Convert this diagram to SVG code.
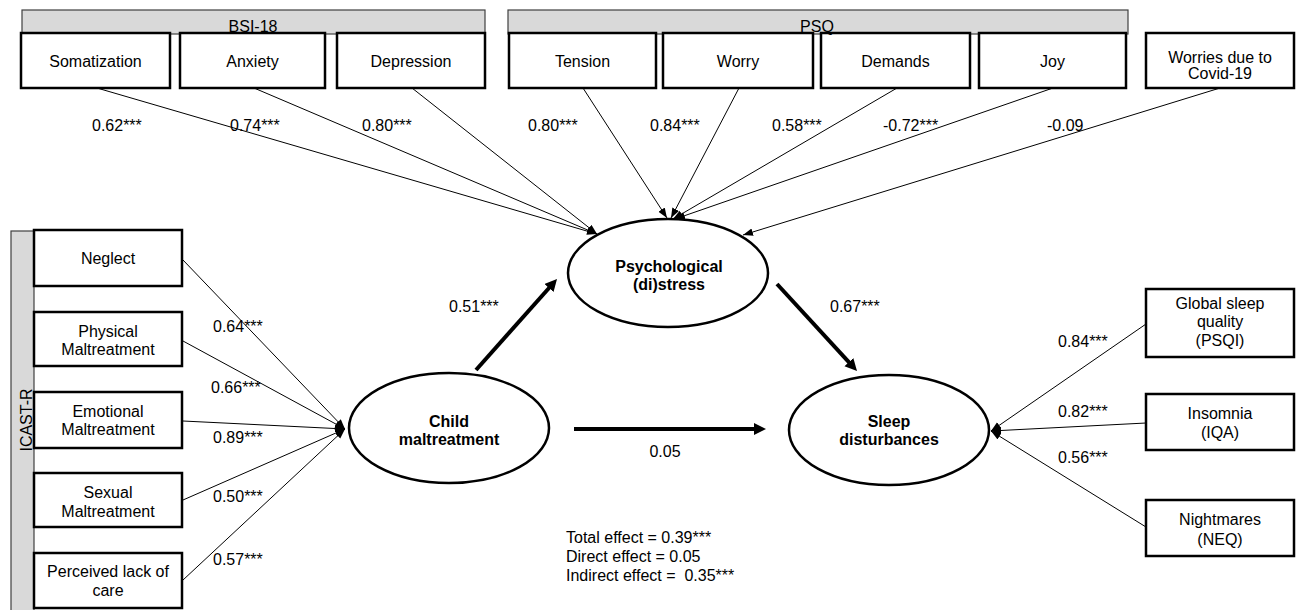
<svg xmlns="http://www.w3.org/2000/svg" width="1296" height="610" viewBox="0 0 1296 610">
<style>
text{font-family:"Liberation Sans",Arial,Helvetica,sans-serif;font-size:16px;fill:#000}
.c{text-anchor:middle}
.b{font-weight:bold}
.box{fill:#fff;stroke:#000;stroke-width:2.5}
.hdr{fill:#d9d9d9;stroke:#404040;stroke-width:1.2}
.ell{fill:#fff;stroke:#000;stroke-width:2.5}
.thin{stroke:#000;stroke-width:1;fill:none;marker-end:url(#ah)}
.thick{stroke:#000;stroke-width:4;fill:none;marker-end:url(#ahb)}
</style>
<defs>
<marker id="ah" markerUnits="userSpaceOnUse" markerWidth="11" markerHeight="8" refX="10" refY="3.75" orient="auto">
<path d="M0,0 L10,3.75 L0,7.5 z" fill="#000"/>
</marker>
<marker id="ahb" markerUnits="userSpaceOnUse" markerWidth="13" markerHeight="13" refX="4" refY="6" orient="auto">
<path d="M0,0 L12,6 L0,12 z" fill="#000"/>
</marker>
</defs>
<rect width="1296" height="610" fill="#fff"/>

<g id="headers">
<rect class="hdr" x="22" y="10" width="463" height="24"/>
<rect class="hdr" x="508" y="10" width="620" height="24"/>
<rect class="hdr" x="11" y="231" width="23" height="385"/>
<text class="c" transform="translate(32,420) rotate(-90)" x="0" y="0">ICAST-R</text>
</g>

<g id="connectors">
<line class="thin" x1="97" y1="88" x2="597" y2="234"/>
<line class="thin" x1="254" y1="88" x2="597" y2="234"/>
<line class="thin" x1="412" y1="88" x2="597" y2="234"/>
<line class="thin" x1="583" y1="88" x2="667" y2="218"/>
<line class="thin" x1="739" y1="88" x2="671" y2="218"/>
<line class="thin" x1="897" y1="88" x2="673" y2="219"/>
<line class="thin" x1="1053" y1="88" x2="675" y2="219"/>
<line class="thin" x1="1220" y1="88" x2="743" y2="235"/>
<line class="thin" x1="183" y1="260" x2="345" y2="429"/>
<line class="thin" x1="183" y1="341" x2="345" y2="429"/>
<line class="thin" x1="183" y1="421" x2="345" y2="429"/>
<line class="thin" x1="183" y1="500" x2="345" y2="429"/>
<line class="thin" x1="183" y1="580" x2="345" y2="429"/>
<line class="thin" x1="1146" y1="324" x2="991" y2="431"/>
<line class="thin" x1="1146" y1="423" x2="991" y2="431"/>
<line class="thin" x1="1146" y1="527" x2="991" y2="431"/>
<line class="thick" x1="476" y1="370" x2="551.7" y2="285"/>
<line class="thick" x1="777" y1="284" x2="851.6" y2="365.1"/>
<line class="thick" x1="574" y1="429" x2="758" y2="429"/>
</g>

<g id="labels">
<text x="92" y="131">0.62***</text>
<text x="230" y="131">0.74***</text>
<text x="362" y="131">0.80***</text>
<text x="528" y="131">0.80***</text>
<text x="650" y="131">0.84***</text>
<text x="772" y="131">0.58***</text>
<text x="883" y="131">-0.72***</text>
<text x="1047" y="131">-0.09</text>
<text x="213" y="332">0.64***</text>
<text x="211" y="393">0.66***</text>
<text x="213" y="443">0.89***</text>
<text x="213" y="502">0.50***</text>
<text x="213" y="565">0.57***</text>
<text x="1058" y="347">0.84***</text>
<text x="1058" y="417">0.82***</text>
<text x="1058" y="463">0.56***</text>
<text x="449" y="312">0.51***</text>
<text x="830" y="312">0.67***</text>
<text class="c" x="665" y="457">0.05</text>
</g>

<g id="somatization"><rect class="box" x="21" y="33" width="149" height="55"/><text class="c" x="95.5" y="67">Somatization</text></g>
<g id="anxiety"><rect class="box" x="180" y="33" width="145" height="55"/><text class="c" x="252.5" y="67">Anxiety</text></g>
<g id="depression"><rect class="box" x="337" y="33" width="148" height="55"/><text class="c" x="411" y="67">Depression</text></g>
<g id="tension"><rect class="box" x="509" y="33" width="147" height="55"/><text class="c" x="582.5" y="67">Tension</text></g>
<g id="worry"><rect class="box" x="663" y="33" width="150" height="55"/><text class="c" x="738" y="67">Worry</text></g>
<g id="demands"><rect class="box" x="821" y="33" width="149" height="55"/><text class="c" x="895.5" y="67">Demands</text></g>
<g id="joy"><rect class="box" x="979" y="33" width="147" height="55"/><text class="c" x="1052.5" y="67">Joy</text></g>
<g id="covid"><rect class="box" x="1146" y="33" width="148" height="55"/><text class="c" x="1220" y="63">Worries due to</text><text class="c" x="1220" y="79">Covid-19</text></g>

<g id="header-labels">
<text class="c" x="253" y="32">BSI-18</text>
<text class="c" x="817" y="32">PSQ</text>
</g>

<g id="neglect"><rect class="box" x="34" y="230" width="148" height="56"/><text class="c" x="108" y="264">Neglect</text></g>
<g id="physical"><rect class="box" x="34" y="312" width="148" height="54"/><text class="c" x="108" y="337">Physical</text><text class="c" x="108" y="355">Maltreatment</text></g>
<g id="emotional"><rect class="box" x="34" y="392" width="148" height="56"/><text class="c" x="108" y="417">Emotional</text><text class="c" x="108" y="435">Maltreatment</text></g>
<g id="sexual"><rect class="box" x="34" y="473" width="148" height="54"/><text class="c" x="108" y="498">Sexual</text><text class="c" x="108" y="517">Maltreatment</text></g>
<g id="perceived"><rect class="box" x="34" y="553" width="148" height="55"/><text class="c" x="108" y="577">Perceived lack of</text><text class="c" x="108" y="596">care</text></g>

<g id="psych"><ellipse class="ell" cx="668" cy="273" rx="100" ry="54"/><text class="c b" x="669" y="272">Psychological</text><text class="c b" x="669" y="290">(di)stress</text></g>
<g id="child"><ellipse class="ell" cx="449" cy="428" rx="100" ry="55"/><text class="c b" x="449" y="427">Child</text><text class="c b" x="449" y="445">maltreatment</text></g>
<g id="sleep"><ellipse class="ell" cx="889" cy="430" rx="100" ry="55"/><text class="c b" x="889" y="427">Sleep</text><text class="c b" x="889" y="445">disturbances</text></g>

<g id="global"><rect class="box" x="1146" y="289" width="148" height="68"/><text class="c" x="1220" y="309">Global sleep</text><text class="c" x="1220" y="327">quality</text><text class="c" x="1220" y="346">(PSQI)</text></g>
<g id="insomnia"><rect class="box" x="1146" y="394" width="148" height="56"/><text class="c" x="1220" y="419">Insomnia</text><text class="c" x="1220" y="438">(IQA)</text></g>
<g id="nightmares"><rect class="box" x="1146" y="500" width="148" height="56"/><text class="c" x="1220" y="525">Nightmares</text><text class="c" x="1220" y="545">(NEQ)</text></g>

<g id="effects">
<text x="566" y="543">Total effect = 0.39***</text>
<text x="566" y="562">Direct effect = 0.05</text>
<text x="566" y="581" xml:space="preserve">Indirect effect =  0.35***</text>
</g>
</svg>
